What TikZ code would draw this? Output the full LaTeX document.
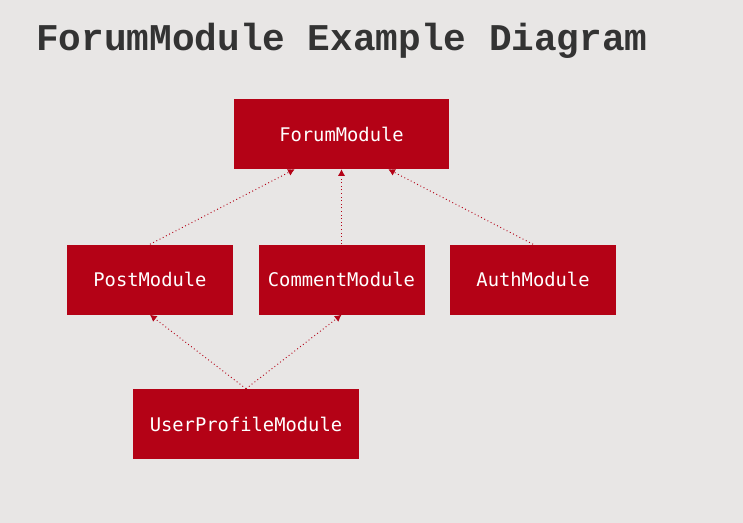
\documentclass[tikz,border=0pt]{standalone}
\usepackage{fontspec}
\usepackage{tikz}
\usetikzlibrary{arrows.meta,positioning}
\usepackage{xcolor}
\newfontfamily\monofont{DejaVu Sans Mono}
\newfontfamily\headfont{Liberation Mono}
\definecolor{slidebg}{RGB}{232,230,229}
\definecolor{modred}{RGB}{180,2,22}
\definecolor{titlegray}{RGB}{51,51,51}
\tikzset{
  modnode/.style = {rectangle, fill=modred, text=white, align=center,
    inner sep=0pt, font=\monofont\fontsize{14.1}{17}\selectfont,
    minimum height=52.5pt},
  mod_n/.style = {modnode, minimum width=124.5pt},
  dep/.style = {-{Latex[length=5pt,width=5.5pt]}, modred, dotted,
    line width=0.7pt},
}

\begin{document}
\begin{tikzpicture}[x=0.75pt,y=-0.75pt]
  \fill[slidebg] (0,0) rectangle (743,523);
  \useasboundingbox (0,0) rectangle (743,523);
  \node [anchor=base west, inner sep=0pt, text=titlegray,
    font=\headfont\bfseries\fontsize{28.3}{34}\selectfont]
    (title) at (36,51) {ForumModule Example Diagram};

  \node [modnode, minimum width=161.25pt] (forum) at (341.5,134) {ForumModule};
  \node [mod_n, below=56.25pt of forum] (comment) {CommentModule};
  \node [mod_n, left=18.75pt of comment] (post) {PostModule};
  \node [mod_n, right=18.75pt of comment] (auth) {AuthModule};
  \node [modnode, minimum width=169.5pt] (profile) at (246,424) {UserProfileModule};

  \draw [dep] (post.north) -- (forum.217);
  \draw [dep] (comment.north) -- (forum.south);
  \draw [dep] (auth.north) -- (forum.323);
  \draw [dep] (profile.north) -- (post.south);
  \draw [dep] (profile.north) -- (comment.south);
\end{tikzpicture}
\end{document}
